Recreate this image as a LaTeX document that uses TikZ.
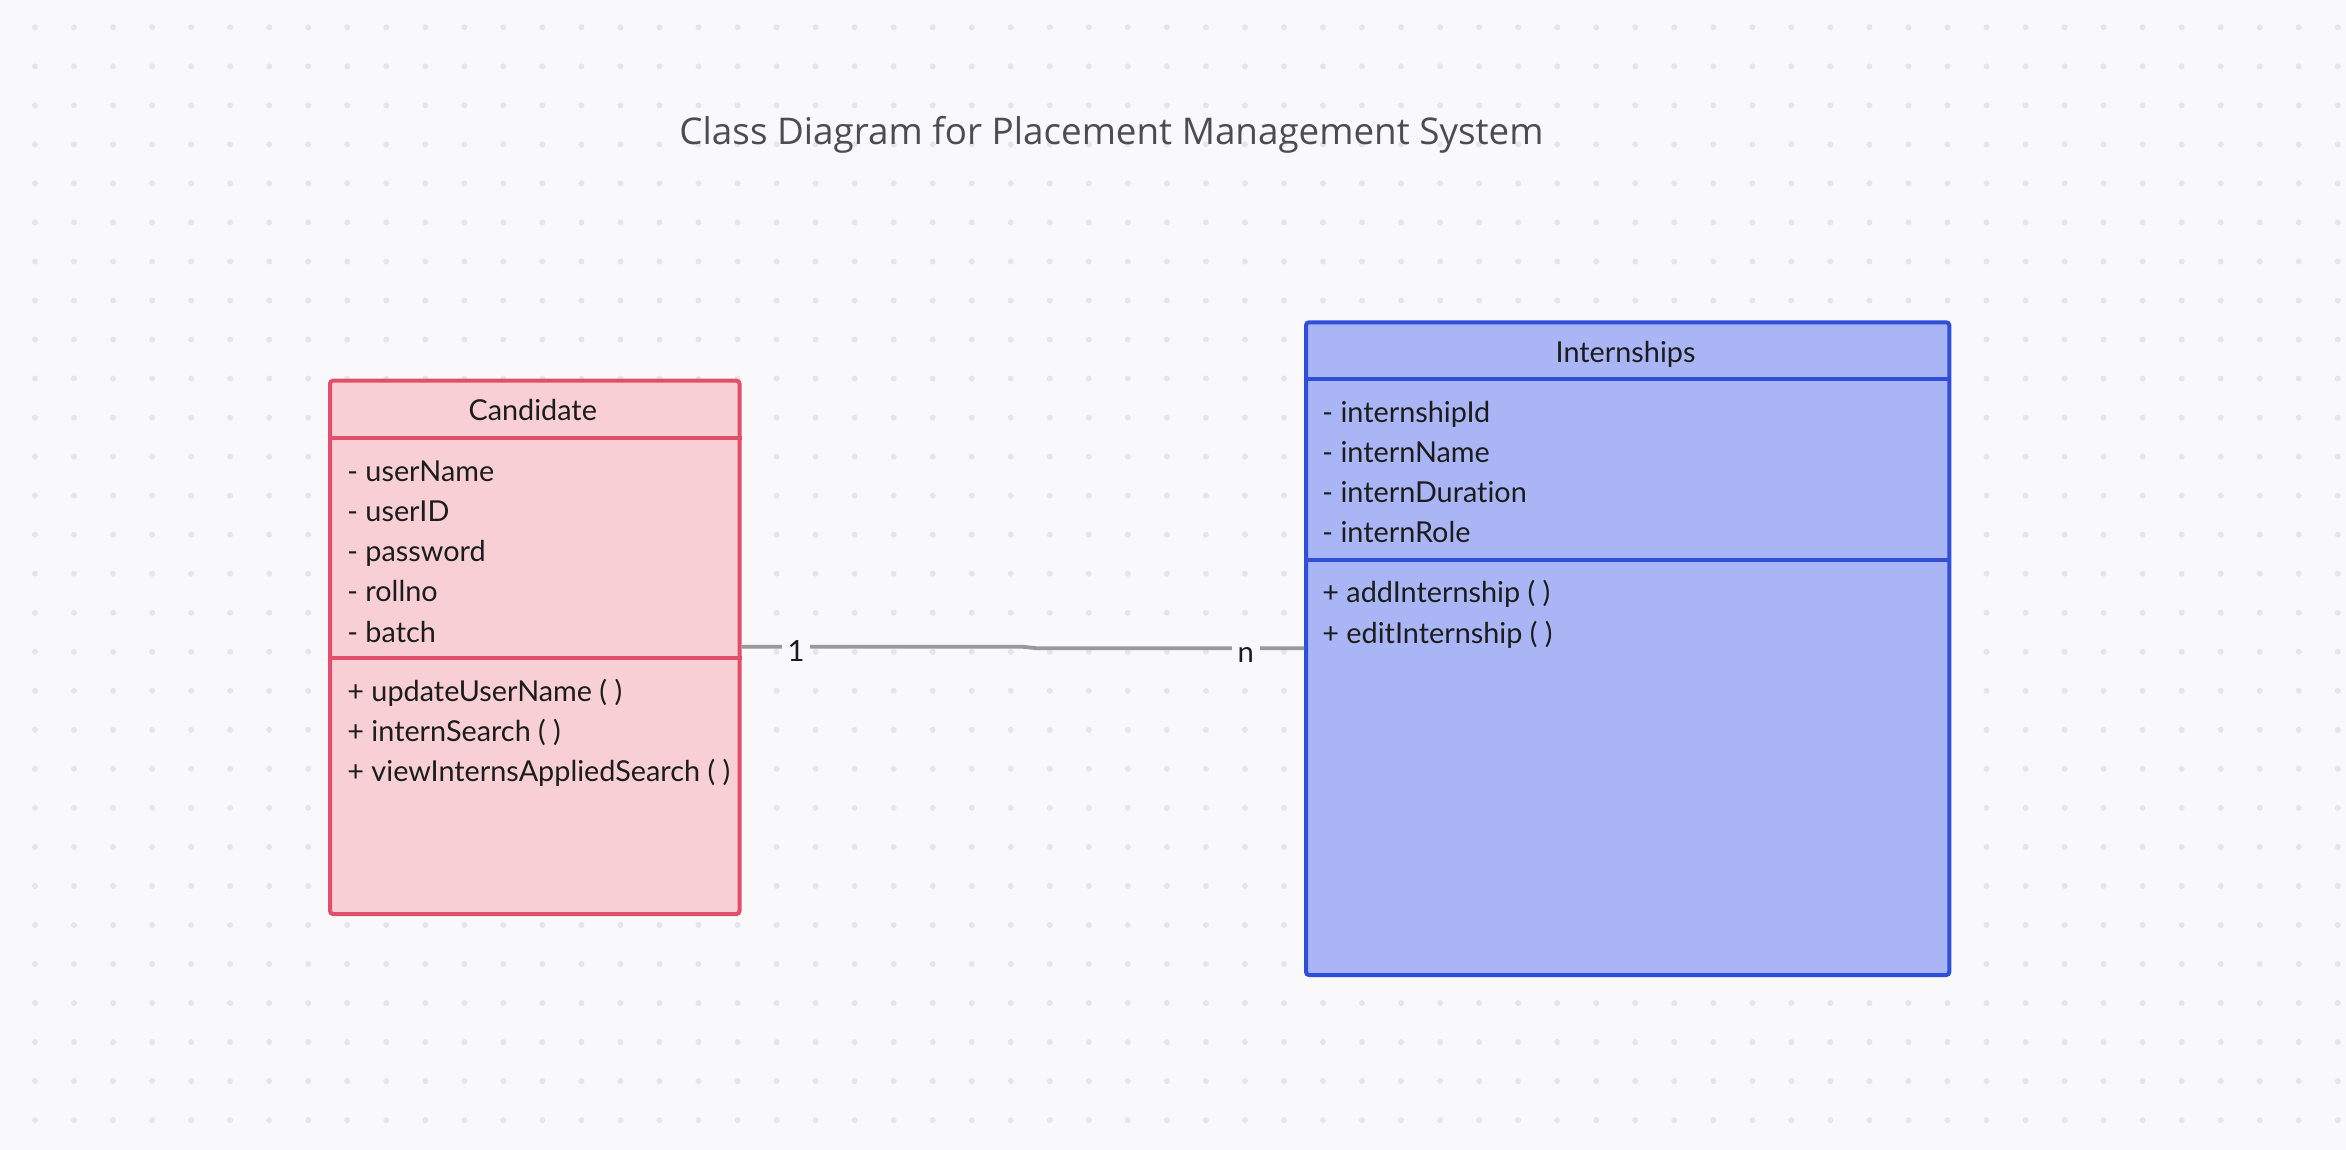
\documentclass[tikz,border=0pt]{standalone}
\usepackage{fontspec}
\setmainfont{Lato}[Ligatures={NoCommon}]
\newfontfamily\titlefont{Open Sans}
\definecolor{bgc}{HTML}{F9F9FB}
\definecolor{dotc}{HTML}{E6E6EA}
\definecolor{candfill}{HTML}{F7CFD4}
\definecolor{candline}{HTML}{E0506A}
\definecolor{intfill}{HTML}{A9B5F5}
\definecolor{intline}{HTML}{2F4FD8}
\definecolor{conn}{HTML}{999999}
\definecolor{txtc}{HTML}{1C1C1C}
\definecolor{titlec}{HTML}{4D4D4D}
\begin{document}
\begin{tikzpicture}[x=0.5pt,y=-0.5pt,
  candbox/.style={draw=candline,fill=candfill,line width=2pt,rounded corners=1.5pt,inner sep=0pt,anchor=north west},
  intbox/.style={draw=intline,fill=intfill,line width=2pt,rounded corners=1.5pt,inner sep=0pt,anchor=north west},
  canddiv/.style={draw=candline,line width=2pt},
  intdiv/.style={draw=intline,line width=2pt},
  txt/.style={inner sep=0pt,text=txtc,font=\fontsize{14.4}{17}\selectfont,anchor=mid west},
  ctitle/.style={inner sep=0pt,text=txtc,font=\fontsize{14.4}{17}\selectfont,anchor=mid},
  lbl/.style={fill=bgc,inner xsep=3pt,inner ysep=2pt,text=txtc,font=\fontsize{14.6}{17}\selectfont,anchor=base},
  connector/.style={draw=conn,line width=1.9pt}]
\useasboundingbox (0,0) rectangle (2346,1150);
\fill[bgc] (0,0) rectangle (2346,1150);
\foreach \i in {0,...,59}{
  \foreach \j in {0,...,28}{
    \fill[dotc] (35+39.03*\i,27.3+39.03*\j) circle[radius=1.5pt];
  }
}
% title
\node[inner sep=0pt,text=titlec,font=\titlefont\fontsize{18.4}{22}\selectfont,anchor=base] (title) at (1111.5,145) {Class Diagram for Placement Management System};
% Candidate
\node[candbox,minimum width=204.75pt,minimum height=266.65pt] (cand) at (328,378.7) {};
\draw[canddiv] (cand.west |- 0,438.3) -- (cand.east |- 0,438.3);
\draw[canddiv] (cand.west |- 0,658.3) -- (cand.east |- 0,658.3);
\node[ctitle] (candname) at (532.75,415) {Candidate};
\node[txt] (ca1) at (347,476.3) {- userName};
\node[txt] (ca2) at (347,516.5) {- userID};
\node[txt] (ca3) at (347,556.7) {- password};
\node[txt] (ca4) at (347,596.9) {- rollno};
\node[txt] (ca5) at (347,637.1) {- batch};
\node[txt] (cm1) at (347,696.5) {+ updateUserName ( )};
\node[txt] (cm2) at (347,736.7) {+ internSearch ( )};
\node[txt] (cm3) at (347,776.9) {+ viewInternsAppliedSearch ( )};
% Internships
\node[intbox,minimum width=321.65pt,minimum height=326.35pt] (intern) at (1304,320.3) {};
\draw[intdiv] (intern.west |- 0,379.3) -- (intern.east |- 0,379.3);
\draw[intdiv] (intern.west |- 0,559.6) -- (intern.east |- 0,559.6);
\node[ctitle] (intname) at (1625.6,357) {Internships};
\node[txt] (ia1) at (1322,417.6) {- internshipId};
\node[txt] (ia2) at (1322,457.4) {- internName};
\node[txt] (ia3) at (1322,497.6) {- internDuration};
\node[txt] (ia4) at (1322,537.4) {- internRole};
\node[txt] (im1) at (1322,597.9) {+ addInternship ( )};
\node[txt] (im2) at (1322,638.1) {+ editInternship ( )};
% connector
\coordinate (j1) at (1022,646.7);
\coordinate (j2) at (1037.6,648.3);
\draw[connector] (cand.east |- j1) -- (j1) -- (j2) -- (intern.west |- j2);
\node[lbl] (one) at (796,661) {1};
\node[lbl] (many) at (1245.7,662) {n};
\end{tikzpicture}
\end{document}
